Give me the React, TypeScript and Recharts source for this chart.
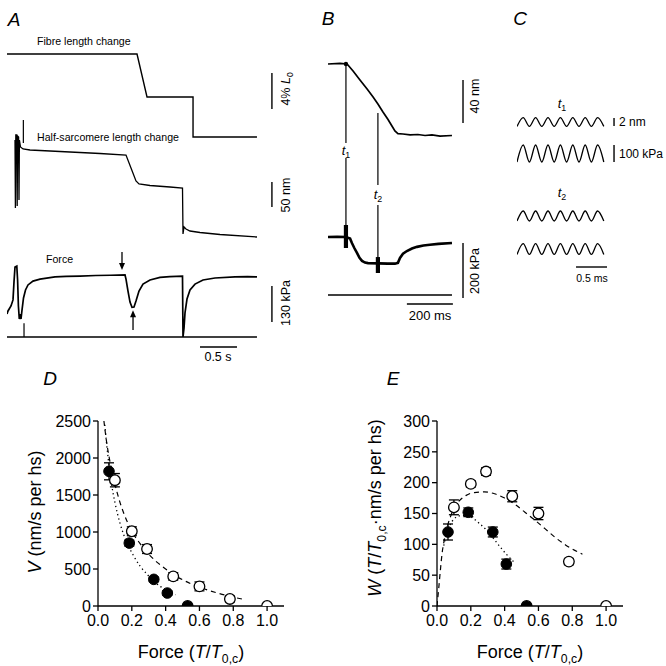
import React from 'react';
import {
  LineChart, Line, XAxis, YAxis, ComposedChart, Scatter, ErrorBar, ReferenceLine, ReferenceDot,
} from 'recharts';

const FONT = '"Liberation Sans", Arial, Helvetica, sans-serif';

// ---------------- Panel A (time in s) ----------------
const fibreTime = [0, 1.757, 1.892, 2.514, 2.514, 3.378];
const fibreLen = [0, 0, -4.78, -4.78, -9.22, -9.22]; // % L0

const sarcTime = [0.1081, 0.1135, 0.1189, 0.1324, 0.1378, 0.1432, 0.1568, 0.1622, 0.1676, 0.1824, 0.2162, 0.3108, 0.7162, 1.2568, 1.6081, 1.6757, 1.7432, 1.7838, 1.9324, 2.2027, 2.3716, 2.3784, 2.3919, 2.4189, 2.473, 2.6081, 2.8784, 3.3784];
const sarcLen = [20, -116, 30, 30, -112, 28, 26, -100, 20, 6, 2, 0, -3, -7, -10, -36, -62, -68, -71, -74, -76, -168, -154, -158, -162, -165, -169, -174]; // nm

const forceATime = [0, 0.0135, 0.054, 0.081, 0.0946, 0.1081, 0.1324, 0.1432, 0.1541, 0.1662, 0.1784, 0.1892, 0.2027, 0.223, 0.25, 0.2838, 0.3514, 0.4459, 0.6486, 0.8, 0.9865, 1.2, 1.4, 1.5946, 1.6081, 1.6351, 1.6622, 1.6892, 1.7162, 1.7432, 1.7838, 1.8378, 1.9324, 2.0676, 2.2, 2.3716, 2.3784, 2.3919, 2.4054, 2.4324, 2.473, 2.5405, 2.6486, 2.8108, 3.0811, 3.25, 3.3784];
const forceA = [83, 94, 112, 134, 199, 253, 256, 206, 112, 65, 83, 65, 97, 141, 170, 188, 202, 209, 217, 219, 220, 222, 223, 224, 209, 166, 126, 107, 108, 130, 166, 191, 206, 215, 218, 220, 0, 32, 87, 137, 170, 191, 206, 213, 217, 218, 217]; // kPa
const baseATime = [0, 3.378];
const baseA = [0, 0];

// ---------------- Panel B (time in ms) ----------------
const bTopTime = [0, 52, 83, 109, 139, 170, 196, 217, 239, 261, 278, 291, 304, 326, 357, 391, 422, 452, 487, 539];
const bTopLen = [0, 0.5, 0, -6.5, -14.9, -23.3, -30.7, -37.2, -44.7, -51.6, -57.7, -62.3, -64.7, -65.1, -66, -65.6, -66.5, -66, -67, -66.5]; // nm
const bForceTime = [0, 40, 78, 96, 104, 115, 126, 137, 148, 161, 174, 220, 260, 291, 304, 313, 326, 343, 365, 387, 415, 443, 480, 539];
const bForce = [211, 212, 211, 205, 189, 170, 153, 135, 124, 118, 116, 115, 114, 114, 117, 135, 150, 160, 169, 175, 180, 183, 186, 189]; // kPa
const bBaseTime = [0, 539];
const bBase = [0, 0];

// ---------------- Panel C (time in ms) ----------------
const cTime = [0, 0.1, 0.2, 0.3, 0.4, 0.5, 0.6, 0.7, 0.8, 0.9, 1.0, 1.1, 1.2, 1.3, 1.4];
const cLen1 = [-1.1, 1.1, -1.1, 1.1, -1.1, 1.1, -1.1, 1.1, -1.1, 1.1, -1.1, 1.1, -1.1, 1.1, -1.1];
const cForce1 = [-50, 50, -50, 50, -50, 50, -50, 50, -50, 50, -50, 50, -50, 50, -50];
const cLen2 = [-1.25, 1.25, -1.25, 1.25, -1.25, 1.25, -1.25, 1.25, -1.25, 1.25, -1.25, 1.25, -1.25, 1.25, -1.25];
const cForce2 = [-32, 32, -32, 32, -32, 32, -32, 32, -32, 32, -32, 32, -32, 32, -32];

// ---------------- Panel D ----------------
const openForce = [0.1, 0.2, 0.29, 0.445, 0.6, 0.78, 1.0];
const openV = [1700, 1010, 770, 400, 265, 95, 0];
const openVErr = [90, 60, 60, 50, 60, 40, 0];
const filledForce = [0.065, 0.185, 0.33, 0.41, 0.53];
const filledV = [1820, 850, 360, 175, 0];
const filledVErr = [115, 40, 30, 30, 0];
const dDashX = [0.035, 0.05, 0.07, 0.1, 0.13, 0.16, 0.2, 0.25, 0.3, 0.35, 0.4, 0.45, 0.5, 0.55, 0.6, 0.65, 0.7, 0.75, 0.8, 0.87];
const dDashV = [2500, 2230, 1960, 1650, 1400, 1210, 1010, 840, 700, 590, 500, 420, 355, 300, 255, 215, 180, 148, 120, 85];
const dDotX = [0.04, 0.06, 0.08, 0.1, 0.13, 0.17, 0.21, 0.25, 0.29, 0.33, 0.37, 0.41, 0.46];
const dDotV = [2450, 2000, 1650, 1400, 1120, 860, 680, 535, 430, 335, 262, 205, 152];
const dTicksX = [0, 0.2, 0.4, 0.6, 0.8, 1.0];
const dTicksY = [0, 500, 1000, 1500, 2000, 2500];

// ---------------- Panel E ----------------
const openW = [160, 198, 218, 178, 150, 72, 0];
const openWErr = [12, 5, 6, 9, 10, 5, 0];
const filledW = [120, 152, 120, 68, 0];
const filledWErr = [13, 7, 8, 8, 0];
const eDashX = [0, 0.01, 0.02, 0.03, 0.045, 0.06, 0.08, 0.1, 0.13, 0.17, 0.22, 0.28, 0.34, 0.4, 0.46, 0.52, 0.58, 0.64, 0.7, 0.76, 0.86];
const eDashW = [0, 28, 58, 85, 110, 128, 145, 158, 170, 179, 184, 185, 182, 175, 165, 152, 139, 125, 111, 99, 84];
const eDotX = [0.04, 0.06, 0.08, 0.1, 0.13, 0.17, 0.21, 0.25, 0.29, 0.33, 0.37, 0.41, 0.46];
const eDotW = [98, 120, 133, 141, 146, 147, 143, 134, 124, 111, 97, 84, 70];
const eTicksY = [0, 50, 100, 150, 200, 250, 300];

// ---------------- helpers ----------------
const zipT = (t: number[], v: number[]) => t.map((x, i) => ({ t: x, v: v[i] }));
const zipXE = (x: number[], v: number[], e?: number[]) => x.map((xx, i) => ({ x: xx, v: v[i], e: e ? e[i] : 0 }));
// domain so that value 0 sits at pixel zeroPx, given chart top/height
const dom = (zeroPx: number, pxPerUnit: number, top: number, height: number): [number, number] => [
  (zeroPx - (top + height)) / pxPerUnit,
  (zeroPx - top) / pxPerUnit,
];

const seg = (key: string, yAxisId: string, x1: number, y1: number, x2: number, y2: number, sw = 1.4, shape?: any) => (
  <ReferenceLine
    key={key}
    yAxisId={yAxisId}
    segment={[{ x: x1, y: y1 }, { x: x2, y: y2 }]}
    stroke="#000"
    strokeWidth={sw}
    ifOverflow="visible"
    shape={shape}
  />
);

const ArrowShape = (p: any) => {
  const { x1, y1, x2, y2 } = p;
  const dir = y2 > y1 ? 1 : -1;
  return (
    <g>
      <line x1={x1} y1={y1} x2={x2} y2={y2 - dir * 5} stroke="#000" strokeWidth={1.3} />
      <path d={`M${x2 - 3},${y2 - dir * 7} L${x2 + 3},${y2 - dir * 7} L${x2},${y2} Z`} fill="#000" />
    </g>
  );
};

const Txt = ({ x, y, size = 12, anchor = 'middle', rotate = false, italic = false, children }: any) => (
  <div
    style={{
      position: 'absolute',
      left: x,
      top: y,
      transform: `translate(${anchor === 'start' ? '0' : '-50%'}, -50%)${rotate ? ' rotate(-90deg)' : ''}`,
      fontSize: size,
      fontFamily: FONT,
      fontStyle: italic ? 'italic' : 'normal',
      whiteSpace: 'nowrap',
      lineHeight: 1,
      color: '#000',
    }}
  >
    {children}
  </div>
);

const Sub = ({ children }: any) => (
  <span style={{ fontSize: '0.68em', verticalAlign: '-0.4em', lineHeight: 0, fontStyle: 'normal' }}>{children}</span>
);

const Box = ({ left, top, children }: any) => (
  <div style={{ position: 'absolute', left, top }}>{children}</div>
);

const traceLine = (key: string, yAxisId: string, data: any[], sw = 1.3, type: any = 'linear') => (
  <Line
    key={key}
    yAxisId={yAxisId}
    data={data}
    dataKey="v"
    stroke="#000"
    strokeWidth={sw}
    dot={false}
    activeDot={false}
    type={type}
    isAnimationActive={false}
  />
);

// ---------------- Panel A chart ----------------
const A_L = 7, A_T = 40, A_W = 296, A_H = 310;
const PanelA = () => (
  <Box left={A_L} top={A_T}>
    <LineChart width={A_W} height={A_H} margin={{ top: 0, right: 0, bottom: 0, left: 0 }}>
      <XAxis type="number" dataKey="t" domain={[0, A_W / 74]} hide allowDataOverflow />
      <YAxis yAxisId="fibre" type="number" domain={dom(54, 9, A_T, A_H)} hide allowDataOverflow />
      <YAxis yAxisId="sarc" type="number" domain={dom(150, 0.5, A_T, A_H)} hide allowDataOverflow />
      <YAxis yAxisId="force" type="number" domain={dom(337, 36 / 130, A_T, A_H)} hide allowDataOverflow />
      {traceLine('fibre', 'fibre', zipT(fibreTime, fibreLen), 1.4)}
      {traceLine('sarc', 'sarc', zipT(sarcTime, sarcLen), 1.3)}
      {traceLine('force', 'force', zipT(forceATime, forceA), 1.7)}
      {traceLine('base', 'force', zipT(baseATime, baseA), 1.4)}
      {seg('sb1', 'fibre', 3.58, -2.1, 3.58, -6.1)}
      {seg('sb2', 'sarc', 3.58, -64, 3.58, -114)}
      {seg('sb3', 'force', 3.58, 54, 3.58, 184)}
      {seg('sb4', 'force', 2.608, -36.1, 3.108, -36.1)}
      {seg('mk1', 'sarc', 0.221, 60, 0.221, 14, 1.2)}
      {seg('mk2', 'force', 0.23, 0, 0.23, 50, 1.2)}
      {seg('ar1', 'force', 1.554, 307, 1.554, 242, 1.3, ArrowShape)}
      {seg('ar2', 'force', 1.703, 25, 1.703, 97, 1.3, ArrowShape)}
    </LineChart>
  </Box>
);

// ---------------- Panel B chart ----------------
const B_L = 328, B_T = 55, B_W = 152, B_H = 255, B_PX = 0.23;
const PanelB = () => (
  <Box left={B_L} top={B_T}>
    <LineChart width={B_W} height={B_H} margin={{ top: 0, right: 0, bottom: 0, left: 0 }}>
      <XAxis type="number" dataKey="t" domain={[0, B_W / B_PX]} hide allowDataOverflow />
      <YAxis yAxisId="nm" type="number" domain={dom(64, 1.075, B_T, B_H)} hide allowDataOverflow />
      <YAxis yAxisId="kpa" type="number" domain={dom(295, 0.275, B_T, B_H)} hide allowDataOverflow />
      {traceLine('top', 'nm', zipT(bTopTime, bTopLen), 1.7)}
      {traceLine('frc', 'kpa', zipT(bForceTime, bForce), 2.6)}
      {traceLine('base', 'kpa', zipT(bBaseTime, bBase), 1.4)}
      {seg('t1a', 'nm', 78, 0, 78, -73.5, 1.2)}
      {seg('t1b', 'nm', 78, -87.4, 78, -149.8, 1.2)}
      {seg('t2a', 'nm', 217, -45.6, 217, -112.6, 1.2)}
      {seg('t2b', 'nm', 217, -131.2, 217, -180.5, 1.2)}
      {seg('m1', 'kpa', 78, 254.5, 78, 171, 4.2)}
      {seg('m2', 'kpa', 217, 138, 217, 80, 4.2)}
      {seg('sbx', 'kpa', 343, -32.7, 543, -32.7)}
      {seg('sbn', 'nm', 587, -14.9, 587, -54.9)}
      {seg('sbk', 'kpa', 587, -11, 587, 189)}
      <ReferenceDot yAxisId="nm" x={78} y={0} r={2.2} fill="#000" stroke="none" ifOverflow="visible" />
    </LineChart>
  </Box>
);

// ---------------- Panel C chart ----------------
const C_L = 517, C_T = 95, C_W = 100, C_H = 180, C_PX = 62;
const PanelC = () => (
  <Box left={C_L} top={C_T}>
    <LineChart width={C_W} height={C_H} margin={{ top: 0, right: 0, bottom: 0, left: 0 }}>
      <XAxis type="number" dataKey="t" domain={[0, C_W / C_PX]} hide allowDataOverflow />
      <YAxis yAxisId="c1" type="number" domain={dom(122, 4, C_T, C_H)} hide allowDataOverflow />
      <YAxis yAxisId="c2" type="number" domain={dom(153.5, 0.17, C_T, C_H)} hide allowDataOverflow />
      <YAxis yAxisId="c3" type="number" domain={dom(216, 4, C_T, C_H)} hide allowDataOverflow />
      <YAxis yAxisId="c4" type="number" domain={dom(249, 0.17, C_T, C_H)} hide allowDataOverflow />
      {traceLine('c1', 'c1', zipT(cTime, cLen1), 1.3, 'monotone')}
      {traceLine('c2', 'c2', zipT(cTime, cForce1), 1.3, 'monotone')}
      {traceLine('c3', 'c3', zipT(cTime, cLen2), 1.3, 'monotone')}
      {traceLine('c4', 'c4', zipT(cTime, cForce2), 1.3, 'monotone')}
      {seg('s1', 'c1', 1.565, -1, 1.565, 1)}
      {seg('s2', 'c2', 1.565, -50, 1.565, 50)}
      {seg('s3', 'c4', 0.952, -105.9, 1.452, -105.9)}
    </LineChart>
  </Box>
);

// ---------------- Panels D / E ----------------
const axisStyle = { stroke: '#000', strokeWidth: 1.3 };
const tickStyle = { fill: '#000', fontSize: 16, fontFamily: FONT };
const R = 5.3;

// points lying on the x axis are only shown above it (clipped by the plot area)
const makeDot = (filled: boolean) => (p: any) => {
  const { cx, cy } = p;
  const v = p.payload && p.payload.v !== undefined ? p.payload.v : p.v;
  const fill = filled ? '#000' : '#fff';
  if (v === 0) {
    return (
      <path
        d={`M${cx - R},${cy} A${R},${R} 0 0 1 ${cx + R},${cy}`}
        fill={fill}
        stroke="#000"
        strokeWidth={1.3}
      />
    );
  }
  return <circle cx={cx} cy={cy} r={R} fill={fill} stroke="#000" strokeWidth={filled ? 1 : 1.3} />;
};
const OpenDot = makeDot(false);
const FilledDot = makeDot(true);

const ScatterPanel = ({ yDomain, yTicks, yWidth, dash, dot, open, filled }: any) => (
  <ComposedChart width={300} height={266} margin={{ top: 21, right: 300 - 40 - yWidth - 186, bottom: 30, left: 40 }}>
    <XAxis
      type="number"
      dataKey="x"
      domain={[0, 1.1]}
      ticks={dTicksX}
      interval={0}
      tickFormatter={(v: number) => v.toFixed(1)}
      axisLine={axisStyle}
      tickLine={axisStyle}
      tickSize={5}
      tickMargin={4}
      tick={tickStyle}
      height={30}
      allowDataOverflow
    />
    <YAxis
      type="number"
      dataKey="v"
      domain={yDomain}
      ticks={yTicks}
      interval={0}
      axisLine={axisStyle}
      tickLine={axisStyle}
      tickSize={5}
      tick={tickStyle}
      width={yWidth}
      allowDataOverflow
    />
    <Line data={dash} dataKey="v" stroke="#000" strokeWidth={1.2} strokeDasharray="5 4" dot={false} activeDot={false} type="monotone" isAnimationActive={false} />
    <Line data={dot} dataKey="v" stroke="#000" strokeWidth={1.3} strokeDasharray="1.3 3" dot={false} activeDot={false} type="monotone" isAnimationActive={false} />
    <Scatter data={filled} dataKey="v" shape={FilledDot} isAnimationActive={false}>
      <ErrorBar dataKey="e" direction="y" width={5} stroke="#000" strokeWidth={1.3} />
    </Scatter>
    <Scatter data={open} dataKey="v" shape={OpenDot} isAnimationActive={false}>
      <ErrorBar dataKey="e" direction="y" width={5} stroke="#000" strokeWidth={1.3} />
    </Scatter>
  </ComposedChart>
);

const ForceLabel = () => (
  <span>
    Force (<i>T</i>/<i>T</i>
    <Sub>0,c</Sub>)
  </span>
);

export default function App() {
  return (
    <div style={{ position: 'absolute', left: 0, top: 0, width: 666, height: 666, background: '#fff', overflow: 'hidden' }}>
      <PanelA />
      <PanelB />
      <PanelC />
      <Box left={0} top={400}>
        <ScatterPanel
          yDomain={[0, 2500]}
          yTicks={dTicksY}
          yWidth={58}
          dash={zipXE(dDashX, dDashV)}
          dot={zipXE(dDotX, dDotV)}
          open={zipXE(openForce, openV, openVErr)}
          filled={zipXE(filledForce, filledV, filledVErr)}
        />
      </Box>
      <Box left={340} top={400}>
        <ScatterPanel
          yDomain={[0, 300]}
          yTicks={eTicksY}
          yWidth={57}
          dash={zipXE(eDashX, eDashW)}
          dot={zipXE(eDotX, eDotW)}
          open={zipXE(openForce, openW, openWErr)}
          filled={zipXE(filledForce, filledW, filledWErr)}
        />
      </Box>

      {/* panel letters */}
      <Txt x={14} y={19} size={19} italic>A</Txt>
      <Txt x={328} y={18} size={19} italic>B</Txt>
      <Txt x={520} y={18} size={19} italic>C</Txt>
      <Txt x={50} y={378} size={19} italic>D</Txt>
      <Txt x={393} y={378} size={19} italic>E</Txt>

      {/* panel A texts */}
      <Txt x={37} y={41} size={10.6} anchor="start">Fibre length change</Txt>
      <Txt x={37} y={137} size={10.6} anchor="start">Half-sarcomere length change</Txt>
      <Txt x={46} y={259} size={10.6} anchor="start">Force</Txt>
      <Txt x={286} y={89} size={12.5} rotate>4% <i>L</i><Sub>0</Sub></Txt>
      <Txt x={286} y={195} size={12.5} rotate>50 nm</Txt>
      <Txt x={286} y={303} size={12.5} rotate>130 kPa</Txt>
      <Txt x={218} y={357} size={12.5}>0.5 s</Txt>

      {/* panel B texts */}
      <Txt x={346} y={150} size={13}><i>t</i><Sub>1</Sub></Txt>
      <Txt x={378} y={194} size={13}><i>t</i><Sub>2</Sub></Txt>
      <Txt x={475} y={96} size={12.5} rotate>40 nm</Txt>
      <Txt x={475} y={271} size={12.5} rotate>200 kPa</Txt>
      <Txt x={430} y={315} size={13}>200 ms</Txt>

      {/* panel C texts */}
      <Txt x={562} y={103} size={13}><i>t</i><Sub>1</Sub></Txt>
      <Txt x={562} y={192} size={13}><i>t</i><Sub>2</Sub></Txt>
      <Txt x={619} y={122} size={12} anchor="start">2 nm</Txt>
      <Txt x={619} y={154} size={12} anchor="start">100 kPa</Txt>
      <Txt x={592} y={278} size={10.5}>0.5 ms</Txt>

      {/* D / E axis labels */}
      <Txt x={35} y={512} size={18} rotate><i>V</i> (nm/s per hs)</Txt>
      <Txt x={191} y={652} size={18}><ForceLabel /></Txt>
      <Txt x={375} y={508} size={18} rotate><i>W</i> (<i>T</i>/<i>T</i><Sub>0,c</Sub>·nm/s per hs)</Txt>
      <Txt x={530} y={652} size={18}><ForceLabel /></Txt>
    </div>
  );
}
